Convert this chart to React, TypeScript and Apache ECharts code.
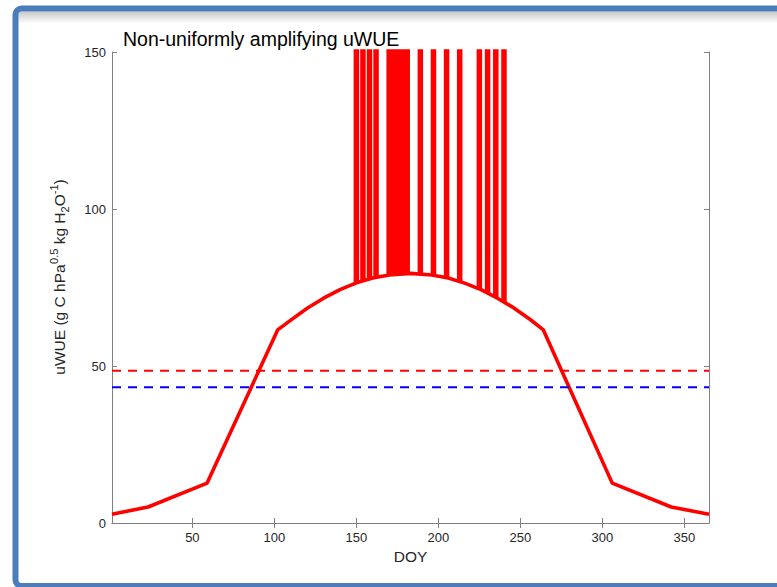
import React, { useEffect, useRef } from "react";
import * as echarts from "echarts";

// Seasonal uWUE curve (knots)
const curveDoy = [1, 23, 59, 102, 110, 120, 130, 140, 150, 160, 170, 183, 196, 206, 216, 226, 236, 246, 256, 264, 306, 342, 365];
const curveVal = [2.8, 5.1, 12.7, 61.5, 64.6, 68.4, 71.6, 74.3, 76.5, 78.0, 79.0, 79.5, 79.0, 78.0, 76.4, 74.3, 71.6, 68.5, 64.8, 61.5, 12.7, 5.1, 2.8];

// Days on which uWUE blows up: value on the curve there, and a top far above the 150 limit (clipped)
const spikeDoy = [150, 154, 158, 162, 170, 171, 172, 173, 174, 175, 176, 177, 178, 179, 180, 181, 189, 197, 205, 213, 225, 230, 235, 240];
const spikeBase = [76.5, 77.1, 77.7, 78.3, 79.0, 79.1, 79.2, 79.2, 79.3, 79.3, 79.4, 79.4, 79.4, 79.5, 79.5, 79.5, 79.4, 79.0, 78.1, 77.0, 74.6, 73.3, 71.9, 70.4];
const spikeTop = 1000;

const redThreshold = 48.5;
const blueThreshold = 43.2;
const xTicks = [50, 100, 150, 200, 250, 300, 350];
const xRange = [1, 365];
const yRange = [0, 150];
const yStep = 50;

const titleText = "Non-uniformly amplifying uWUE";
const xName = "DOY";
const FONT = '"Liberation Sans", Arial, Helvetica, sans-serif';

export default function App() {
  const ref = useRef<HTMLDivElement>(null);
  useEffect(() => {
    const chart = echarts.init(ref.current!, null, { renderer: "svg" });

    // y-axis label with super/subscripts, laid out by measuring text
    const cv = document.createElement("canvas");
    const ctx = cv.getContext("2d")!;
    const measure = (t: string, s: number) => {
      ctx.font = `${s}px ${FONT}`;
      return ctx.measureText(t).width;
    };
    const main = 15.5;
    const small = 11;
    const sp = measure(" ", main);
    const parts = [
      { t: "uWUE (g C hPa", s: main, b: 0, gap: 0 },
      { t: "0.5", s: small, b: -7, gap: 0.5 },
      { t: "kg H", s: main, b: 0, gap: sp },
      { t: "2", s: small, b: 4, gap: 0 },
      { t: "O", s: main, b: 0, gap: 0 },
      { t: "-1", s: small, b: -7, gap: 0 },
      { t: ")", s: main, b: 0, gap: 0 },
    ];
    let cx = 0;
    const children: any[] = [];
    parts.forEach((p) => {
      cx += p.gap;
      children.push({
        type: "text",
        x: cx,
        y: p.b - 0.33 * p.s,
        style: {
          text: p.t,
          font: `${p.s}px ${FONT}`,
          fill: "#262626",
          textAlign: "left",
          textVerticalAlign: "middle",
          align: "left",
          verticalAlign: "middle",
        },
      });
      cx += measure(p.t, p.s);
    });
    const total = cx;
    const labelCenterY = 277;

    const curveData = curveDoy.map((d, i) => [d, curveVal[i]]);
    const spikeData: any[] = [];
    spikeDoy.forEach((d, i) => {
      spikeData.push([d, spikeBase[i]], [d, spikeTop], [d, "-"]);
    });

    const axisGray = "#808080";

    chart.setOption({
      animation: false,
      backgroundColor: "#ffffff",
      title: {
        text: titleText,
        left: 123,
        top: 29,
        padding: 0,
        textStyle: { fontSize: 19.5, fontWeight: "normal", color: "#000", fontFamily: FONT },
      },
      grid: { left: 112, top: 52, width: 597, height: 471, outerBoundsMode: "none", containLabel: false },
      xAxis: [
        {
          type: "value",
          position: "bottom",
          min: xRange[0],
          max: xRange[1],
          name: xName,
          nameLocation: "middle",
          nameGap: 25,
          nameTextStyle: { fontSize: 15.5, color: "#262626", fontFamily: FONT },
          axisLine: { show: true, lineStyle: { color: axisGray, width: 1 } },
          axisTick: { show: true, inside: true, length: 5, customValues: xTicks, lineStyle: { color: axisGray } },
          axisLabel: { customValues: xTicks, fontSize: 13, color: "#262626", margin: 8, fontFamily: FONT },
          splitLine: { show: false },
        },
        {
          type: "value",
          position: "top",
          min: xRange[0],
          max: xRange[1],
          axisLine: { show: true, lineStyle: { color: axisGray, width: 1 } },
          axisTick: { show: true, inside: true, length: 5, customValues: xTicks, lineStyle: { color: axisGray } },
          axisLabel: { show: false },
          splitLine: { show: false },
        },
      ],
      yAxis: [
        {
          type: "value",
          position: "left",
          min: yRange[0],
          max: yRange[1],
          interval: yStep,
          axisLine: { show: true, lineStyle: { color: axisGray, width: 1 } },
          axisTick: { show: true, inside: true, length: 5, lineStyle: { color: axisGray } },
          axisLabel: { fontSize: 13, color: "#262626", margin: 6, fontFamily: FONT },
          splitLine: { show: false },
        },
        {
          type: "value",
          position: "right",
          min: yRange[0],
          max: yRange[1],
          interval: yStep,
          axisLine: { show: true, lineStyle: { color: axisGray, width: 1 } },
          axisTick: { show: true, inside: true, length: 5, lineStyle: { color: axisGray } },
          axisLabel: { show: false },
          splitLine: { show: false },
        },
      ],
      series: [
        {
          type: "line",
          data: spikeData,
          showSymbol: false,
          symbol: "none",
          clip: true,
          connectNulls: false,
          lineStyle: { color: "#ff0000", width: 5.5, cap: "butt" },
          z: 2,
        },
        {
          type: "line",
          data: curveData,
          showSymbol: false,
          symbol: "none",
          clip: true,
          lineStyle: { color: "#ff0000", width: 3.6, join: "round" },
          z: 3,
        },
        {
          type: "line",
          data: [[xRange[0], redThreshold], [xRange[1], redThreshold]],
          showSymbol: false,
          symbol: "none",
          lineStyle: { color: "#ff0000", width: 2, type: [9, 7] },
          z: 4,
        },
        {
          type: "line",
          data: [[xRange[0], blueThreshold], [xRange[1], blueThreshold]],
          showSymbol: false,
          symbol: "none",
          lineStyle: { color: "#0000ff", width: 2, type: [9, 7] },
          z: 4,
        },
      ],
      graphic: [
        {
          type: "rect",
          z: -10,
          shape: { x: 18, y: 11.5, width: 800, height: 12 },
          style: {
            fill: new echarts.graphic.LinearGradient(0, 0, 0, 1, [
              { offset: 0, color: "rgba(0,0,0,0.22)" },
              { offset: 1, color: "rgba(0,0,0,0)" },
            ]),
          },
          silent: true,
        },
        {
          type: "rect",
          z: 100,
          shape: { x: 15.5, y: 8.5, width: 820, height: 577.5, r: 6 },
          style: { fill: "none", stroke: "#4a7dbc", lineWidth: 6 },
          silent: true,
        },
        {
          type: "group",
          x: 65,
          y: labelCenterY + total / 2,
          rotation: Math.PI / 2,
          children,
        },
      ],
    });
    return () => chart.dispose();
  }, []);
  return (
    <div
      ref={ref}
      style={{ position: "fixed", left: 0, top: 0, width: 777, height: 587, background: "#fff" }}
    />
  );
}
